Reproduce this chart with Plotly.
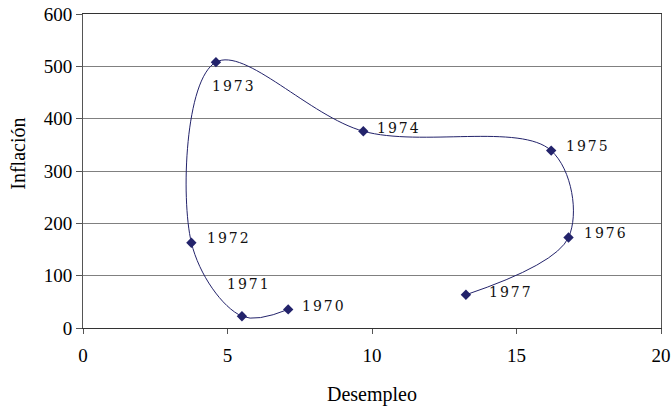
import plotly.graph_objects as go

years = ["1970", "1971", "1972", "1973", "1974", "1975", "1976", "1977"]
desempleo = [7.1, 5.5, 3.75, 4.6, 9.7, 16.2, 16.8, 13.25]
inflacion = [35.5, 22.5, 163, 508, 376, 339, 173, 63.5]

x_ticks = [0, 5, 10, 15, 20]
y_ticks = [0, 100, 200, 300, 400, 500, 600]

# label offsets in pixels (left edge of text relative to point, +y is up)
label_shift = {
    "1970": (12, 3), "1971": (-17, 32), "1972": (14, 5), "1973": (-6, -24),
    "1974": (12, 3), "1975": (13, 5), "1976": (13, 4), "1977": (21, 3),
}

navy = "#23236B"
serif = "Liberation Serif, Times New Roman, serif"
label_font = "DejaVu Serif, serif"

fig = go.Figure()
fig.add_trace(go.Scatter(
    x=desempleo, y=inflacion, mode="lines+markers",
    line=dict(color=navy, width=1, shape="spline", smoothing=1.0),
    marker=dict(symbol="diamond", size=8, color=navy),
    hoverinfo="skip", showlegend=False, cliponaxis=False,
))

for yr, xv, yv in zip(years, desempleo, inflacion):
    dx, dy = label_shift[yr]
    fig.add_annotation(
        x=xv, y=yv, text=yr, showarrow=False, xanchor="left", yanchor="middle",
        xshift=dx, yshift=dy, font=dict(family=label_font, size=14, color="#111"),
    )

fig.add_annotation(
    text="Inflación", xref="paper", yref="paper", x=0, y=0.555,
    xanchor="center", yanchor="middle", xshift=-65, textangle=-90,
    showarrow=False, font=dict(family=serif, size=20, color="black"),
)

fig.update_layout(
    width=671, height=406,
    margin=dict(l=83, r=10, t=14, b=78, autoexpand=False),
    paper_bgcolor="white", plot_bgcolor="white",
    font=dict(family=serif, color="black"),
)
fig.update_xaxes(
    range=[0, 20], tickvals=x_ticks, ticktext=[str(v) for v in x_ticks],
    showgrid=False, zeroline=False, automargin=False,
    showline=True, linecolor="#333", linewidth=1, mirror=True,
    ticks="outside", ticklen=5, tickcolor="#555", ticklabelstandoff=5,
    ticklabeloverflow="allow",
    tickfont=dict(family=serif, size=19),
    title=dict(text="Desempleo", font=dict(family=serif, size=20), standoff=24),
)
fig.update_yaxes(
    range=[0, 600], tickvals=y_ticks, ticktext=[str(v) for v in y_ticks],
    showgrid=True, gridcolor="#808080", gridwidth=1, zeroline=False,
    automargin=False,
    showline=True, linecolor="#555", linewidth=1, mirror=True,
    ticks="outside", ticklen=6, tickcolor="#555",
    tickfont=dict(family=serif, size=19),
)

# widen the letter spacing of the year labels a little, keeping their left edge
post = """
var gd = document.getElementById('{plot_id}');
gd.querySelectorAll('.annotation-text').forEach(function(t){
  if (/^\\d{4}$/.test(t.textContent)) {
    var b0 = t.getBBox();
    t.style.letterSpacing = '2px';
    var b1 = t.getBBox();
    var x = parseFloat(t.getAttribute('x')) || 0;
    t.setAttribute('x', x + (b0.x - b1.x));
  }
});
"""
fig.write_html("out.html", post_script=post)
